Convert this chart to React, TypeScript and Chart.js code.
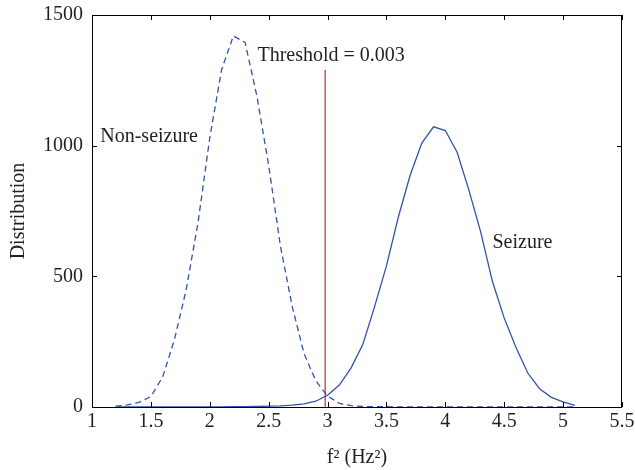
import React, { useEffect, useRef } from "react";
import { Chart, registerables } from "chart.js";

Chart.register(...registerables);

const xValues = [
  1.2, 1.3, 1.4, 1.5, 1.6, 1.7, 1.8, 1.9, 2.0, 2.1, 2.2, 2.3, 2.4, 2.5, 2.6, 2.7, 2.8, 2.9, 3.0, 3.1,
  3.2, 3.3, 3.4, 3.5, 3.6, 3.7, 3.8, 3.9, 4.0, 4.1, 4.2, 4.3, 4.4, 4.5, 4.6, 4.7, 4.8, 4.9, 5.0, 5.1,
];
const nonSeizure = [
  3, 8, 18, 40, 115, 258, 450, 705, 1030, 1290, 1420, 1395, 1190, 925, 615, 385, 205, 100, 42, 14,
  5, 2, 1, 1, 0, 0, 0, 0, 0, 0, 0, 0, 0, 0, 0, 0, 0, 0, 0, 0,
];
const seizure = [
  0, 0, 0, 0, 0, 0, 0, 0, 0, 0, 1, 1, 2, 3, 4, 7, 12, 22, 45, 84,
  150, 240, 385, 540, 725, 885, 1010, 1072, 1058, 975, 830, 670, 480, 340, 228, 130, 70, 37, 20, 6,
];
const thresholdX = [2.98, 2.98];
const thresholdY = [0, 1290];
const xTicks = [1, 1.5, 2, 2.5, 3, 3.5, 4, 4.5, 5, 5.5];
const yTicks = [0, 500, 1000, 1500];
const annotations = [
  { text: "Non-seizure", x: 1.07, y: 1033, align: "left" },
  { text: "Threshold = 0.003", x: 2.405, y: 1343, align: "left" },
  { text: "Seizure", x: 4.4, y: 628, align: "left" },
];

const FONT = "'Liberation Serif', 'Times New Roman', serif";
const BLUE = "#3352a8";
const RED = "#c0432f";
const TEXT = "#231f20";
const FS = 20;

const framePlugin = {
  id: "frame",
  afterDraw(chart: any) {
    const { ctx, chartArea, scales } = chart;
    const { left, right, top, bottom } = chartArea;
    ctx.save();
    ctx.strokeStyle = "#000";
    ctx.lineWidth = 1;
    ctx.strokeRect(left + 0.5, top + 0.5, right - left - 1, bottom - top);
    const len = 5;
    ctx.beginPath();
    xTicks.forEach((v) => {
      const px = Math.round(scales.x.getPixelForValue(v)) + 0.5;
      ctx.moveTo(px, bottom);
      ctx.lineTo(px, bottom - len);
      ctx.moveTo(px, top);
      ctx.lineTo(px, top + len);
    });
    yTicks.forEach((v) => {
      const py = Math.round(scales.y.getPixelForValue(v)) + 0.5;
      ctx.moveTo(left, py);
      ctx.lineTo(left + len, py);
      ctx.moveTo(right, py);
      ctx.lineTo(right - len, py);
    });
    ctx.stroke();
    ctx.fillStyle = TEXT;
    ctx.font = `${FS}px ${FONT}`;
    ctx.textBaseline = "middle";
    annotations.forEach((a) => {
      ctx.textAlign = a.align as CanvasTextAlign;
      ctx.fillText(a.text, scales.x.getPixelForValue(a.x), scales.y.getPixelForValue(a.y));
    });
    ctx.restore();
  },
};

export default function App() {
  const ref = useRef<HTMLCanvasElement | null>(null);
  useEffect(() => {
    document.body.style.margin = "0";
    const canvas = ref.current!;
    const chart = new Chart(canvas, {
      type: "line",
      data: {
        datasets: [
          {
            label: "Non-seizure",
            data: xValues.map((x, i) => ({ x, y: nonSeizure[i] })),
            borderColor: BLUE,
            borderWidth: 1.3,
            borderDash: [6, 4],
            pointRadius: 0,
            fill: false,
            tension: 0,
          },
          {
            label: "Seizure",
            data: xValues.map((x, i) => ({ x, y: seizure[i] })),
            borderColor: BLUE,
            borderWidth: 1.3,
            pointRadius: 0,
            fill: false,
            tension: 0,
          },
          {
            label: "Threshold",
            data: thresholdX.map((x, i) => ({ x, y: thresholdY[i] })),
            borderColor: RED,
            borderWidth: 1.3,
            pointRadius: 0,
            fill: false,
          },
        ],
      },
      options: {
        responsive: false,
        animation: false,
        layout: { padding: { top: 15, right: 13, left: 0, bottom: 0 } },
        plugins: { legend: { display: false }, tooltip: { enabled: false } },
        scales: {
          x: {
            type: "linear",
            min: 1,
            max: 5.5,
            afterBuildTicks: (scale: any) => {
              scale.ticks = xTicks.map((v) => ({ value: v }));
            },
            afterFit: (scale: any) => {
              scale.height = 63;
              scale.paddingLeft = 0;
              scale.paddingRight = 0;
            },
            grid: { display: false, drawTicks: false },
            border: { display: false },
            ticks: {
              color: TEXT,
              font: { family: FONT, size: FS },
              padding: 3,
              maxRotation: 0,
              callback: (v: any) => String(v),
            },
            title: {
              display: true,
              text: "f² (Hz²)",
              color: TEXT,
              font: { family: FONT, size: FS },
              padding: { top: 1, bottom: 0 },
            },
          },
          y: {
            type: "linear",
            min: 0,
            max: 1500,
            afterBuildTicks: (scale: any) => {
              scale.ticks = yTicks.map((v) => ({ value: v }));
            },
            afterFit: (scale: any) => {
              scale.width = 92;
              scale.paddingTop = 0;
              scale.paddingBottom = 0;
            },
            grid: { display: false, drawTicks: false },
            border: { display: false },
            ticks: {
              color: TEXT,
              font: { family: FONT, size: FS },
              padding: 9,
              callback: (v: any) => String(v),
            },
            title: {
              display: true,
              text: "Distribution",
              color: TEXT,
              font: { family: FONT, size: FS },
              padding: { top: 7, bottom: 0 },
            },
          },
        },
      },
      plugins: [framePlugin],
    } as any);
    return () => chart.destroy();
  }, []);
  return <canvas ref={ref} width={635} height={470} style={{ display: "block" }} />;
}
